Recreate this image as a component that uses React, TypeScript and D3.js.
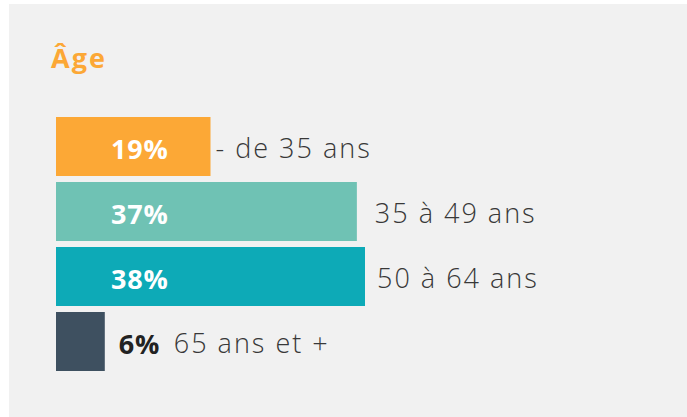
import React from "react";
import * as d3 from "d3";

const categories = ["- de 35 ans", "35 à 49 ans", "50 à 64 ans", "65 ans et +"];
const values = [19, 37, 38, 6];
const colors = ["#FCA836", "#6FC2B4", "#0DAAB7", "#3E5060"];
const title = "Âge";

// layout (not data)
const W = 687, H = 417;
const labelGaps = [5, 18, 12, 13];

export default function App() {
  const x = d3.scaleLinear().domain([0, 38]).range([56, 365]);
  const y = d3.scaleBand<number>().domain(d3.range(values.length)).range([117, 117 + 65 * 4 - 6]).paddingInner(6 / 65).paddingOuter(0);
  const font = "'Open Sans', sans-serif";
  return (
    <svg width={W} height={H} style={{ position: "absolute", left: 0, top: 0 }}>
      <rect x={0} y={0} width={W} height={H} fill="#ffffff" />
      <rect x={9} y={4} width={W - 9} height={H - 4} fill="#F1F1F1" />
      <text x={51} y={68} fill="#FCA836" fontFamily={font} fontWeight={700} fontSize={27} letterSpacing={2}>{title}</text>
      {values.map((v, i) => {
        const y0 = y(i)!;
        const bh = y.bandwidth();
        const cy = y0 + bh / 2;
        const end = x(v);
        const inside = end - x(0) > 100;
        const pctX = inside ? 111 : end + 14;
        const pctW = inside ? 0 : 42;
        const labX = inside ? end + labelGaps[i] : pctX + pctW + labelGaps[i];
        return (
          <g key={i}>
            <rect x={x(0)} y={y0} width={end - x(0)} height={bh} fill={colors[i]} />
            <text x={pctX} y={cy + 12} fill={inside ? "#ffffff" : "#222222"} fontFamily={font} fontWeight={700} fontSize={27} letterSpacing={0.8}>{v}%</text>
            <text x={labX} y={cy + 11} fill="#383838" fontFamily={font} fontWeight={300} fontSize={27} letterSpacing={2}>{categories[i]}</text>
          </g>
        );
      })}
    </svg>
  );
}
